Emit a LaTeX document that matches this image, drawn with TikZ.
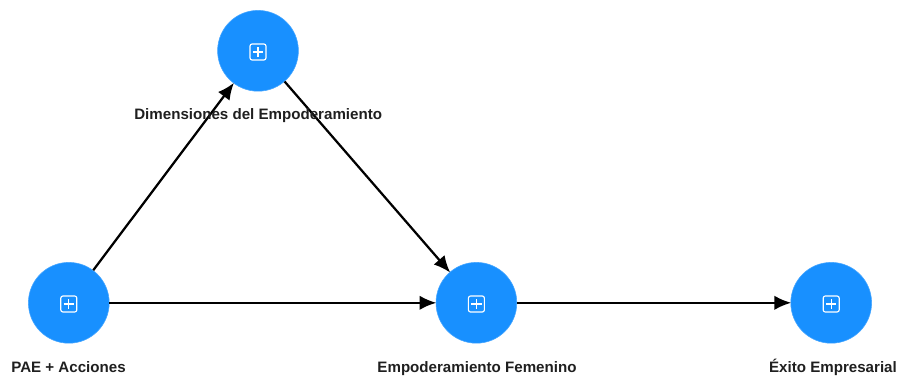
\documentclass[tikz,border=0pt]{standalone}
\usepackage{fontspec}
\setmainfont{Liberation Sans}
\usetikzlibrary{arrows.meta}
\definecolor{nodeblue}{HTML}{1890FF}
\definecolor{labelgray}{HTML}{1F1F1F}
\tikzset{
	construct/.style={circle, fill=nodeblue, draw=nodeblue!80!white, line width=0.4pt, minimum size=2.02cm, inner sep=0pt,
		path picture={
			\draw[white, line width=0.8pt, rounded corners=1.5pt] ([shift={(-0.2,-0.23)}]path picture bounding box.center) rectangle ([shift={(0.2,0.17)}]path picture bounding box.center);
			\draw[white, line width=0.8pt] ([shift={(-0.13,-0.03)}]path picture bounding box.center) -- ([shift={(0.13,-0.03)}]path picture bounding box.center);
			\draw[white, line width=0.8pt] ([shift={(0,-0.16)}]path picture bounding box.center) -- ([shift={(0,0.1)}]path picture bounding box.center);
		}},
	link/.style={line width=1.6pt, black, -{Latex[length=0.42cm, width=0.36cm]}, shorten >=-0.5pt},
	caption/.style={text=labelgray, font=\bfseries\fontsize{10.75}{12}\selectfont, inner sep=0pt, anchor=base}
}
\begin{document}
\begin{tikzpicture}
	\useasboundingbox (0,0) rectangle (22.45,9.4);
	\node[construct] (dimensiones) at (6.45,8.13) {};
	\node[construct] (pae) at (1.72,1.83) {};
	\node[construct] (empoderamiento) at (11.91,1.83) {};
	\node[construct] (exito) at (20.78,1.83) {};
	\draw[link] (pae) -- (dimensiones);
	\draw[link] (dimensiones) -- (empoderamiento);
	\draw[link] (pae) -- (empoderamiento);
	\draw[link] (empoderamiento) -- (exito);
	\node[caption] (dimensionestext) at (6.455,6.42) {Dimensiones del Empoderamiento};
	\node[caption] (paetext) at (1.7125,0.09) {PAE + Acciones};
	\node[caption] (empoderamientotext) at (11.925,0.09) {Empoderamiento Femenino};
	\node[caption] (exitotext) at (20.825,0.09) {Éxito Empresarial};
\end{tikzpicture}
\end{document}
